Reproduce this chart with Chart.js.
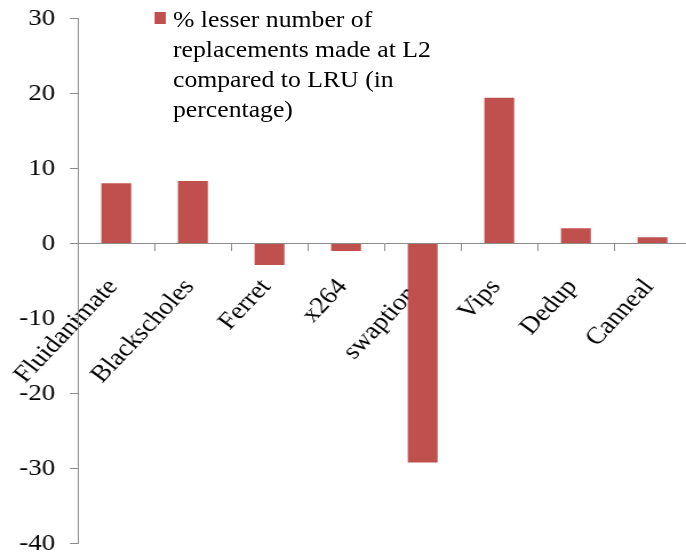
<!DOCTYPE html>
<html>
<head>
<meta charset="utf-8">
<script src="https://cdn.jsdelivr.net/npm/chart.js@4/dist/chart.umd.min.js"></script>
<style>
  html, body { margin: 0; padding: 0; background: #fff; overflow: hidden; width: 686px; height: 557px; }
  #wrap { position: absolute; left: 0; top: 0; width: 605px; height: 557px; transform: scaleX(1.1433); transform-origin: 0 0; }
  #legend { position: absolute; left: 134.7px; top: 5.4px; font-family: "Liberation Serif", "Times New Roman", serif; font-size: 22.5px; line-height: 30px; color: #000; white-space: nowrap; }
  #legend .sw { position: absolute; left: 0; top: 6.6px; width: 10.5px; height: 12.5px; background: #C0504D; }
  #legend .tx { position: absolute; left: 16.6px; top: 0; }
</style>
</head>
<body>
<div id="wrap">
  <canvas id="c" width="605" height="557"></canvas>
  <div id="legend"><div class="sw"></div><div class="tx"></div></div>
</div>
<script>
const categories = ["Fluidanimate", "Blackscholes", "Ferret", "x264", "swaptions", "Vips", "Dedup", "Canneal"];
const seriesValues = [8.03, 8.33, -2.87, -1.0, -29.2, 19.45, 2.03, 0.83];
const seriesLabel = ["% lesser number of", "replacements made at L2", "compared to LRU (in", "percentage)"];
const yTicks = [30, 20, 10, 0, -10, -20, -30, -40];

document.querySelector('#legend .tx').innerHTML = seriesLabel.join('<br>');

const FONT = { family: '"Liberation Serif", "Times New Roman", serif', size: 23.5 };
const XFONT = { family: '"Liberation Serif", "Times New Roman", serif', size: 24 };
const AXIS = '#8c8c8c';

new Chart(document.getElementById('c'), {
  type: 'bar',
  data: {
    labels: categories,
    datasets: [{
      label: seriesLabel.join(' '),
      data: seriesValues,
      backgroundColor: '#C0504D',
      borderWidth: 0,
      barPercentage: 0.39,
      categoryPercentage: 1.0
    }]
  },
  options: {
    responsive: false,
    animation: false,
    devicePixelRatio: 1,
    layout: { padding: { top: 18.5, bottom: 13.5, left: 0, right: 0.8 } },
    plugins: { legend: { display: false }, tooltip: { enabled: false } },
    scales: {
      x: {
        position: { y: 0 },
        z: 1,
        afterFit: (s) => { s.paddingLeft = 0; s.paddingRight = 0; },
        grid: { drawOnChartArea: false, drawTicks: true, tickLength: 7, color: AXIS, offset: true },
        border: { color: AXIS, width: 1 },
        ticks: { color: '#000', font: XFONT, minRotation: 50, maxRotation: 50, autoSkip: false, padding: 23, labelOffset: -3 }
      },
      y: {
        min: -40, max: 30,
        afterFit: (s) => { s.width = 68.2; s.paddingTop = 0; s.paddingBottom = 0; },
        afterBuildTicks: (s) => { s.ticks = yTicks.map(v => ({ value: v })); },
        grid: { drawOnChartArea: false, drawTicks: true, tickLength: 7, color: AXIS },
        border: { color: AXIS, width: 1 },
        ticks: { color: '#000', font: FONT, padding: 13, callback: (v) => String(v) }
      }
    }
  }
});
</script>
</body>
</html>
